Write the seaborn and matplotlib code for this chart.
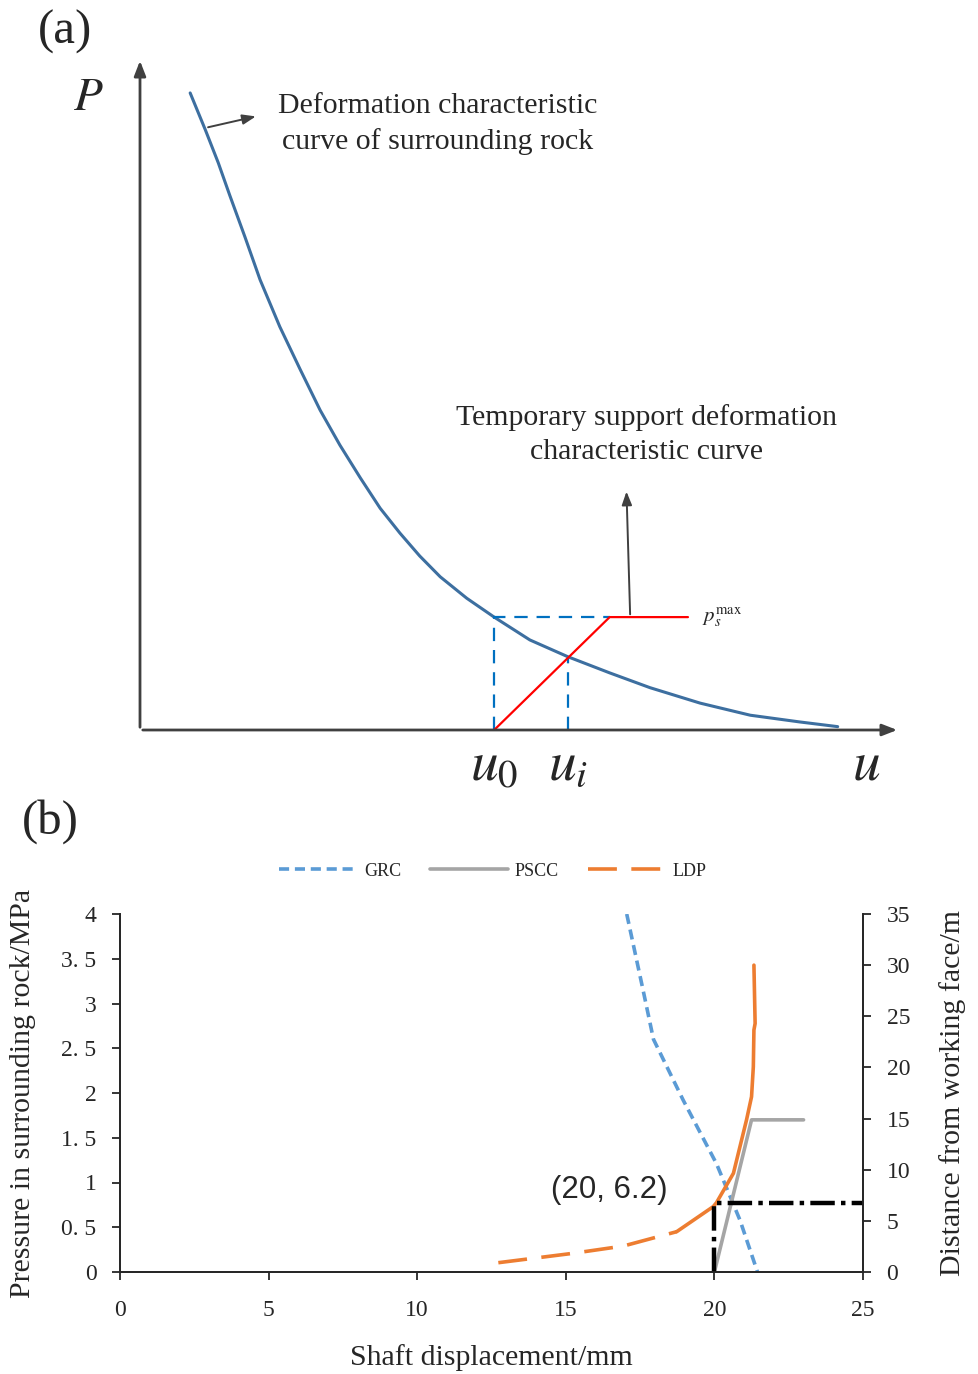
import numpy as np
import pandas as pd
import matplotlib
matplotlib.use('Agg')
import matplotlib.pyplot as plt
import seaborn as sns

sns.set_style('ticks')
plt.rcParams['font.family'] = ['Liberation Serif', 'DejaVu Serif']
plt.rcParams['mathtext.fontset'] = 'stix'

# ---- panel (a): schematic curves (units: 0..10 on both axes)
rock_u = [0.66, 0.86, 1.03, 1.18, 1.38, 1.58, 1.84, 2.11, 2.37, 2.63, 2.90, 3.16, 3.42, 3.68,
          3.95, 4.30, 4.66, 5.13, 5.63, 6.18, 6.71, 7.37, 8.03, 8.68, 9.18]
rock_p = [9.48, 8.93, 8.44, 7.96, 7.34, 6.70, 6.00, 5.36, 4.76, 4.24, 3.75, 3.30, 2.93, 2.59,
          2.28, 1.96, 1.68, 1.34, 1.09, 0.85, 0.63, 0.40, 0.22, 0.12, 0.05]
u0, ui = 4.66, 5.63
p_u0, p_ui = 1.68, 1.09
support_u = [4.66, 6.18, 7.21]
support_p = [0.0, 1.68, 1.68]

# ---- panel (b): data
grc_x = [17.05, 17.6, 17.95, 18.95, 20.07, 20.86, 21.45]
grc_y = [4.0, 3.15, 2.6, 1.92, 1.21, 0.58, 0.0]
pscc_x = [20.0, 21.25, 23.0]
pscc_y = [0.0, 1.7, 1.7]
ldp_dash_x = [12.73, 15.25, 16.94, 18.73]
ldp_dash_y = [0.91, 1.83, 2.54, 3.94]
ldp_x = [18.73, 19.96, 20.07, 20.64, 21.08, 21.25, 21.31, 21.33, 21.37, 21.33]
ldp_y = [3.94, 6.39, 6.78, 9.65, 14.86, 17.14, 20.07, 23.66, 24.3, 30.0]
mark_x, mark_y = 20, 6.7
x_ticks = [0, 5, 10, 15, 20, 25]
left_ticks = [0, 0.5, 1, 1.5, 2, 2.5, 3, 3.5, 4]
left_labels = ['0', '0. 5', '1', '1. 5', '2', '2. 5', '3', '3. 5', '4']
right_ticks = [0, 5, 10, 15, 20, 25, 30, 35]

fig = plt.figure(figsize=(9.79, 13.74), dpi=100)

# ================= (a)
axa = fig.add_axes([140 / 979, (1374 - 730) / 1374, 760 / 979, 672 / 1374])
axa.set_xlim(0, 10)
axa.set_ylim(0, 10)
axa.axis('off')
gray = '#404040'
axa.annotate('', xy=(0, 10), xytext=(0, 0), annotation_clip=False,
             arrowprops=dict(arrowstyle='-|>,head_length=0.9,head_width=0.35', color=gray, lw=2))
axa.annotate('', xy=(10, 0), xytext=(0, 0), annotation_clip=False,
             arrowprops=dict(arrowstyle='-|>,head_length=0.9,head_width=0.35', color=gray, lw=2))
sns.lineplot(x=rock_u, y=rock_p, ax=axa, sort=False, estimator=None, color='#3D6FA0', lw=2.2)
axa.plot([u0, u0, 6.18], [0, p_u0, p_u0], color='#0070C0', lw=1.6, ls=(0, (6, 4)))
axa.plot([ui, ui], [0, p_ui], color='#0070C0', lw=1.6, ls=(0, (6, 4)))
sns.lineplot(x=support_u, y=support_p, ax=axa, sort=False, estimator=None, color='#FF0000', lw=1.6)
axa.annotate('', xy=(6.4, 3.59), xytext=(6.45, 1.68),
             arrowprops=dict(arrowstyle='-|>,head_length=0.8,head_width=0.3', color=gray, lw=1.4))
axa.annotate('', xy=(1.56, 9.14), xytext=(0.86, 8.96),
             arrowprops=dict(arrowstyle='-|>,head_length=0.8,head_width=0.3', color=gray, lw=1.4))
axa.text(3.92, 9.02, 'Deformation characteristic\ncurve of surrounding rock',
         ha='center', va='center', fontsize=21.5, linespacing=1.4)
axa.text(6.66, 4.39, 'Temporary support deformation\ncharacteristic curve',
         ha='center', va='center', fontsize=21.5, linespacing=1.4)
axa.text(7.4, 1.68, r'$p_s^{\mathrm{max}}$', ha='left', va='center', fontsize=15)
axa.text(u0, -0.74, r'$u_0$', ha='center', va='baseline', fontsize=40)
axa.text(ui, -0.74, r'$u_i$', ha='center', va='baseline', fontsize=40)
axa.text(9.55, -0.74, r'$u$', ha='center', va='baseline', fontsize=40)
axa.text(-0.68, 9.4, r'$P$', ha='center', va='center', fontsize=34)
fig.text(65 / 979, 1 - 32 / 1374, '(a)', ha='center', va='center', fontsize=35)
fig.text(50 / 979, 1 - 822 / 1374, '(b)', ha='center', va='center', fontsize=35)

# ================= (b)
axb = fig.add_axes([120 / 979, (1374 - 1272) / 1374, 743 / 979, 358 / 1374])
axr = axb.twinx()
blue, grey, orange = '#5B9BD5', '#A5A5A5', '#ED7D31'
sns.lineplot(x=grc_x, y=grc_y, ax=axb, sort=False, estimator=None, color=blue, lw=2.6,
             ls=(0, (2.8, 1.6)), label='GRC')
sns.lineplot(x=pscc_x, y=pscc_y, ax=axb, sort=False, estimator=None, color=grey, lw=2.6, label='PSCC')
sns.lineplot(x=ldp_dash_x, y=ldp_dash_y, ax=axr, sort=False, estimator=None, color=orange, lw=2.6,
             ls=(0, (8, 4)), label='LDP')
sns.lineplot(x=ldp_x, y=ldp_y, ax=axr, sort=False, estimator=None, color=orange, lw=2.6)
axr.plot([mark_x, mark_x, 25], [0, mark_y, mark_y], color='black', lw=3.2, ls=(0, (5.5, 1.4, 1, 1.4)),
         clip_on=False)
axr.text(16.45, 8.0, '(20, 6.2)', family='Liberation Sans', fontsize=22.5, ha='center', va='center')

axb.set_xlim(0, 25)
axb.set_ylim(0, 4)
axr.set_ylim(0, 35)
axb.set_xticks(x_ticks)
axb.set_yticks(left_ticks)
axb.set_yticklabels(left_labels)
axr.set_yticks(right_ticks)
for ax in (axb, axr):
    ax.spines['top'].set_visible(False)
    for s in ax.spines.values():
        s.set_linewidth(1.3)
    ax.tick_params(labelsize=17, width=1.3, length=6, direction='out', pad=11)
axb.tick_params(axis='x', pad=14)
axb.set_xlabel('Shaft displacement/mm', fontsize=21.5)
axb.set_ylabel('Pressure in surrounding rock/MPa', fontsize=21.5)
axr.set_ylabel('Distance from working face/m', fontsize=21.5)
axb.xaxis.set_label_coords(0.5, -0.2)
axb.yaxis.set_label_coords(-0.113, 0.5)
axr.yaxis.set_label_coords(1.103, 0.5)

h1, l1 = axb.get_legend_handles_labels()
h2, l2 = axr.get_legend_handles_labels()
axb.get_legend().remove()
axr.get_legend().remove()
fig.legend(h1 + h2, l1 + l2, loc='center', bbox_to_anchor=(493 / 979, 1 - 871 / 1374), ncol=3,
           frameon=False, fontsize=13, handlelength=4.3, columnspacing=1.6, handletextpad=0.4)

fig.savefig('out.png', dpi=100)
